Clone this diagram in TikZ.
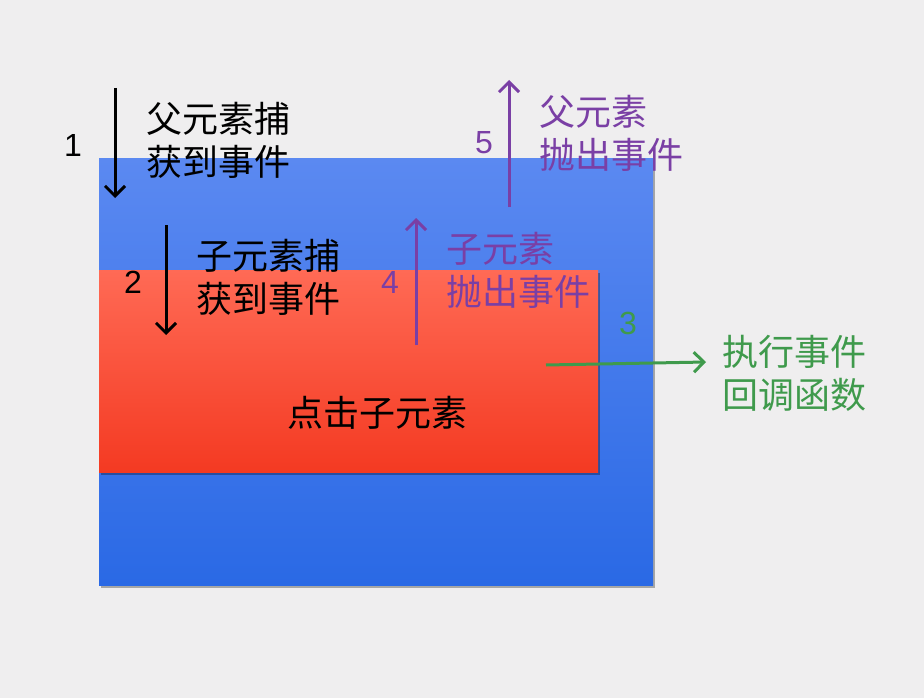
\documentclass[tikz,border=0pt]{standalone}
\usepackage{fontspec}
\newfontfamily\cjk{Noto Sans CJK SC}
\setmainfont{Liberation Sans}
\usetikzlibrary{arrows.meta,shadows}
\definecolor{bg}{HTML}{EFEEEF}
\definecolor{bluetop}{HTML}{5B89F1}
\definecolor{bluebot}{HTML}{2A69E5}
\definecolor{redtop}{HTML}{FF6A55}
\definecolor{redbot}{HTML}{F43A22}
\definecolor{purp}{HTML}{7A3FA5}
\definecolor{grn}{HTML}{3F9A4C}
\tikzset{
  x=1pt,y=-1pt,
  lbl/.style={inner sep=0pt,anchor=west,align=left,font=\cjk\fontsize{36}{43}\selectfont},
  num/.style={inner sep=0pt,font=\fontsize{32}{38}\selectfont},
  arr/.style={line width=3pt,-{Straight Barb[length=10pt,width=20pt,line width=3pt]}},
  boxshadow/.style={drop shadow={shadow xshift=2pt,shadow yshift=-3pt,fill=black,opacity=0.3}}
}
\begin{document}
\begin{tikzpicture}
\fill[bg] (0,0) rectangle (924,698);
\useasboundingbox (0,0) rectangle (924,698);
% parent box
\node[boxshadow,inner sep=0pt,minimum width=554pt,minimum height=427pt,anchor=north west,
  top color=bluetop,bottom color=bluebot] (parent) at (99,158) {};
% child box
\node[boxshadow,inner sep=0pt,minimum width=499pt,minimum height=202pt,anchor=north west,
  top color=redtop,bottom color=redbot] (child) at (99,270) {};
\node[inner sep=0pt,font=\cjk\fontsize{36}{43}\selectfont] (click) at (377,413) {点击子元素};
% step 1
\coordinate (a1s) at (115,88);
\coordinate (a1e) at (115,198);
\draw[arr,black] (a1s) -- (a1e);
\node[num] (n1) at (73,145) {1};
\node[lbl] (t1) at (146,140) {父元素捕\\获到事件};
% step 2
\coordinate (a2s) at (166,225);
\coordinate (a2e) at (166,335);
\draw[arr,black] (a2s) -- (a2e);
\node[num] (n2) at (133,282) {2};
\node[lbl] (t2) at (196,277) {子元素捕\\获到事件};
% step 3
\coordinate (a3s) at (546,365);
\coordinate (a3e) at (706,362);
\node[num,text=grn] (n3) at (628,323) {3};
\node[lbl,text=grn] (t3) at (722,373) {执行事件\\回调函数};
\draw[arr,grn] (a3s) -- (a3e);
% step 4
\coordinate (a4s) at (416,345);
\coordinate (a4e) at (416,218);
\draw[arr,purp] (a4s) -- (a4e);
\node[num,text=purp] (n4) at (390,282) {4};
\node[lbl,text=purp] (t4) at (446,270) {子元素\\抛出事件};
% step 5
\coordinate (a5s) at (509,207);
\coordinate (a5e) at (509,80);
\draw[arr,purp] (a5s) -- (a5e);
\node[num,text=purp] (n5) at (484,143) {5};
\node[lbl,text=purp] (t5) at (539,133) {父元素\\抛出事件};
\end{tikzpicture}
\end{document}
